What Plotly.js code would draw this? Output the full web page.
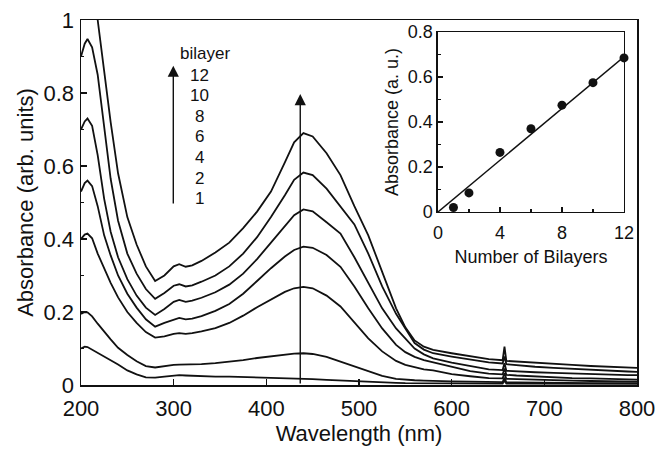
<!DOCTYPE html>
<html>
<head>
<meta charset="utf-8">
<script src="https://cdn.plot.ly/plotly-3.0.1.min.js"></script>
<style>
  html, body { margin: 0; padding: 0; background: #fff; }
  #chart { width: 668px; height: 453px; }
</style>
</head>
<body>
<div id="chart"></div>
<script>
// ---- Data ----
const wavelength = [200, 204, 207, 212, 218, 225, 232, 240, 250, 260, 270, 280, 290, 300, 306, 313, 320, 330, 345, 360, 375, 390, 405, 420, 430, 440, 450, 465, 480, 495, 510, 525, 540, 550, 560, 570, 580, 600, 620, 640, 655, 657, 659, 670, 690, 710, 730, 750, 770, 790, 800];

const abs12 = [1.15, 1.2, 1.22, 1.17, 1.0, 0.86, 0.72, 0.58, 0.46, 0.385, 0.325, 0.285, 0.3, 0.325, 0.331, 0.324, 0.328, 0.34, 0.363, 0.39, 0.43, 0.475, 0.53, 0.61, 0.665, 0.69, 0.681, 0.635, 0.575, 0.49, 0.41, 0.31, 0.21, 0.158, 0.122, 0.105, 0.096, 0.087, 0.078, 0.071, 0.068, 0.105, 0.066, 0.064, 0.061, 0.058, 0.055, 0.052, 0.05, 0.048, 0.047];
const abs10 = [0.9, 0.935, 0.948, 0.925, 0.85, 0.7, 0.565, 0.45, 0.36, 0.305, 0.263, 0.236, 0.252, 0.272, 0.276, 0.27, 0.273, 0.283, 0.3, 0.325, 0.36, 0.405, 0.46, 0.52, 0.562, 0.582, 0.575, 0.538, 0.49, 0.44, 0.36, 0.27, 0.195, 0.155, 0.115, 0.097, 0.087, 0.078, 0.07, 0.062, 0.059, 0.078, 0.057, 0.054, 0.05, 0.047, 0.044, 0.041, 0.039, 0.037, 0.036];
const abs8 = [0.7, 0.722, 0.73, 0.71, 0.63, 0.51, 0.42, 0.35, 0.29, 0.245, 0.212, 0.192, 0.208, 0.228, 0.233, 0.228, 0.231, 0.239, 0.254, 0.275, 0.305, 0.345, 0.39, 0.435, 0.465, 0.481, 0.476, 0.446, 0.415, 0.35, 0.28, 0.21, 0.155, 0.127, 0.1, 0.084, 0.073, 0.061, 0.052, 0.043, 0.041, 0.06, 0.039, 0.037, 0.035, 0.033, 0.031, 0.03, 0.028, 0.027, 0.027];
const abs6 = [0.53, 0.553, 0.56, 0.545, 0.49, 0.41, 0.355, 0.3, 0.25, 0.212, 0.18, 0.16, 0.17, 0.18, 0.184, 0.18, 0.182, 0.189, 0.203, 0.222, 0.25, 0.285, 0.32, 0.352, 0.37, 0.379, 0.376, 0.356, 0.324, 0.27, 0.21, 0.155, 0.11, 0.09, 0.077, 0.068, 0.062, 0.048, 0.038, 0.031, 0.029, 0.045, 0.028, 0.026, 0.023, 0.021, 0.019, 0.018, 0.016, 0.015, 0.015];
const abs4 = [0.4, 0.412, 0.415, 0.402, 0.36, 0.32, 0.28, 0.24, 0.2, 0.17, 0.145, 0.13, 0.133, 0.14, 0.142, 0.14, 0.142, 0.147, 0.156, 0.17, 0.19, 0.213, 0.235, 0.255, 0.265, 0.269, 0.265, 0.245, 0.215, 0.17, 0.128, 0.092, 0.066, 0.055, 0.048, 0.043, 0.04, 0.03, 0.024, 0.019, 0.018, 0.032, 0.017, 0.016, 0.014, 0.013, 0.012, 0.011, 0.01, 0.009, 0.009];
const abs2 = [0.195, 0.2, 0.199, 0.188, 0.168, 0.148, 0.125, 0.102, 0.082, 0.065, 0.052, 0.048, 0.052, 0.055, 0.056, 0.056, 0.056, 0.057, 0.06, 0.063, 0.068, 0.074, 0.079, 0.083, 0.086, 0.087, 0.085, 0.077, 0.064, 0.049, 0.036, 0.025, 0.017, 0.014, 0.013, 0.012, 0.012, 0.01, 0.009, 0.008, 0.008, 0.02, 0.007, 0.007, 0.006, 0.006, 0.006, 0.005, 0.005, 0.005, 0.005];
const abs1 = [0.1, 0.105, 0.104, 0.097, 0.088, 0.077, 0.067, 0.056, 0.04, 0.029, 0.021, 0.02, 0.023, 0.026, 0.027, 0.026, 0.025, 0.024, 0.023, 0.023, 0.022, 0.022, 0.021, 0.02, 0.019, 0.018, 0.016, 0.014, 0.012, 0.01, 0.008, 0.007, 0.006, 0.005, 0.005, 0.005, 0.004, 0.004, 0.004, 0.004, 0.004, 0.012, 0.004, 0.004, 0.004, 0.004, 0.004, 0.003, 0.003, 0.003, 0.003];

const bilayerLabels = ['12', '10', '8', '6', '4', '2', '1'];

// inset
const bilayers = [1, 2, 4, 6, 8, 10, 12];
const peakAbs = [0.02, 0.085, 0.265, 0.37, 0.475, 0.575, 0.685];
const fitX = [0, 12];
const fitY = [0, 0.69];

// ---- Build figure ----
const FONT = 'Arial, "Liberation Sans", Helvetica, sans-serif';
const curves = [abs12, abs10, abs8, abs6, abs4, abs2, abs1];
const traces = curves.map(c => ({
  x: wavelength, y: c, type: 'scatter', mode: 'lines',
  line: { color: '#111', width: 1.8 }, xaxis: 'x', yaxis: 'y',
  hoverinfo: 'skip', showlegend: false
}));
traces.push({
  x: fitX, y: fitY, type: 'scatter', mode: 'lines',
  line: { color: '#111', width: 1.5 }, xaxis: 'x2', yaxis: 'y2', showlegend: false
});
traces.push({
  x: bilayers, y: peakAbs, type: 'scatter', mode: 'markers',
  marker: { color: '#111', size: 9 }, xaxis: 'x2', yaxis: 'y2',
  cliponaxis: false, showlegend: false
});

const annotations = [];
annotations.push({
  xref: 'x', yref: 'y', x: 333.8, y: 0.907, text: 'bilayer', showarrow: false,
  font: { family: FONT, size: 17, color: '#111' }, xanchor: 'center', yanchor: 'middle'
});
bilayerLabels.forEach((t, i) => {
  annotations.push({
    xref: 'x', yref: 'y', x: 328.4, y: 0.849 - i * 0.0565, text: t, showarrow: false,
    font: { family: FONT, size: 17, color: '#111' }, xanchor: 'center', yanchor: 'middle'
  });
});
// arrows
annotations.push({
  xref: 'x', yref: 'y', axref: 'x', ayref: 'y',
  x: 299.6, y: 0.875, ax: 299.6, ay: 0.493, text: '', showarrow: true,
  arrowhead: 2, arrowsize: 1.6, arrowwidth: 1.4, arrowcolor: '#111', standoff: 0
});
annotations.push({
  xref: 'x', yref: 'y', axref: 'x', ayref: 'y',
  x: 436.6, y: 0.797, ax: 436.6, ay: 0, text: '', showarrow: true,
  arrowhead: 2, arrowsize: 1.6, arrowwidth: 1.4, arrowcolor: '#111', standoff: 0
});

const axisCommon = {
  showgrid: false, zeroline: false, showline: true, linecolor: '#111', linewidth: 1.5,
  mirror: true, ticks: 'inside', tickcolor: '#111', tickwidth: 1.2, ticklen: 6,
  color: '#111'
};

const layout = {
  width: 668, height: 453,
  margin: { l: 81, r: 31, t: 20, b: 68, pad: 0 },
  paper_bgcolor: '#fff', plot_bgcolor: '#fff',
  font: { family: FONT, color: '#111' },
  showlegend: false,
  xaxis: Object.assign({}, axisCommon, {
    range: [200, 800], dtick: 100, tick0: 200,
    tickfont: { family: FONT, size: 22 }, ticklabelstandoff: 3,
    title: { text: 'Wavelength (nm)', font: { family: FONT, size: 22 }, standoff: 4 },
    domain: [0, 1], anchor: 'y'
  }),
  yaxis: Object.assign({}, axisCommon, {
    range: [0, 1], dtick: 0.2, tick0: 0,
    minor: { dtick: 0.1, ticks: 'inside', ticklen: 3, tickcolor: '#111' },
    tickfont: { family: FONT, size: 22 }, ticklabelstandoff: 1,
    title: { text: 'Absorbance (arb. units)', font: { family: FONT, size: 22 }, standoff: 4 },
    domain: [0, 1], anchor: 'x'
  }),
  xaxis2: Object.assign({}, axisCommon, {
    range: [0, 12], dtick: 4, tick0: 0, ticklen: 5,
    minor: { dtick: 2, ticks: 'inside', ticklen: 3, tickcolor: '#111' },
    tickfont: { family: FONT, size: 18 }, ticklabelstandoff: 4,
    title: { text: 'Number of Bilayers', font: { family: FONT, size: 18 }, standoff: 8 },
    domain: [0.642, 0.9766], anchor: 'y2'
  }),
  yaxis2: Object.assign({}, axisCommon, {
    range: [0, 0.8], dtick: 0.2, tick0: 0, ticklen: 5,
    minor: { dtick: 0.1, ticks: 'inside', ticklen: 3, tickcolor: '#111' },
    tickfont: { family: FONT, size: 18 },
    title: { text: 'Absorbance (a. u.)', font: { family: FONT, size: 18 }, standoff: 4 },
    domain: [0.474, 0.967], anchor: 'x2'
  }),
  annotations: annotations
};

Plotly.newPlot('chart', traces, layout, { staticPlot: true, displayModeBar: false });
</script>
</body>
</html>
